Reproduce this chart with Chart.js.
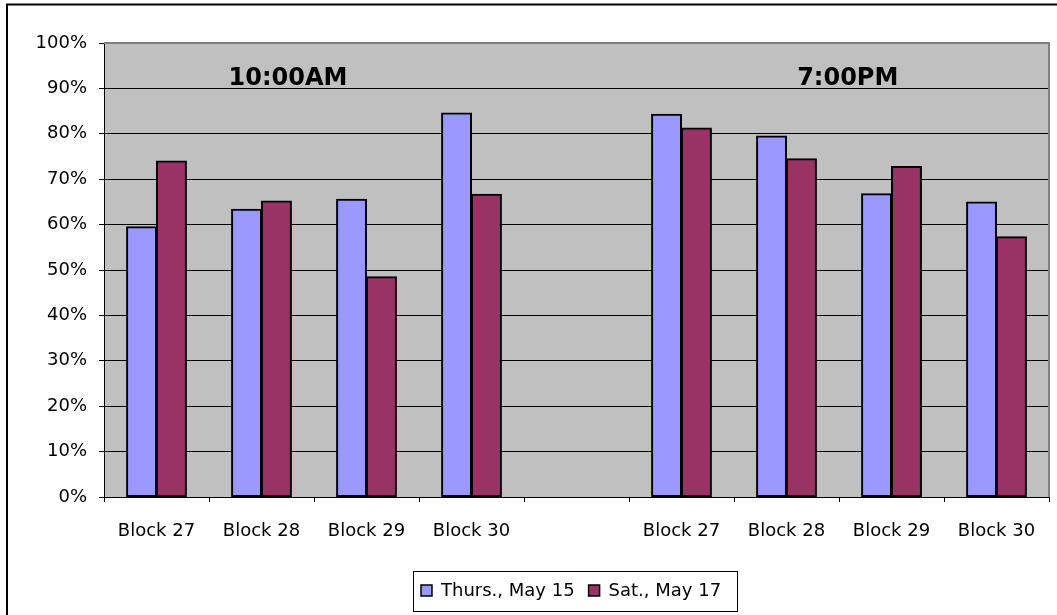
<!DOCTYPE html>
<html>
<head>
<meta charset="utf-8">
<script src="https://cdn.jsdelivr.net/npm/chart.js@4"></script>
<style>
  html, body { margin: 0; padding: 0; background: #ffffff; }
  #wrap { width: 1057px; height: 615px; position: relative; }
</style>
</head>
<body>
<div id="wrap"><canvas id="c" width="1057" height="615"></canvas></div>
<script>
// ---- data ----
const categories = ['Block 27', 'Block 28', 'Block 29', 'Block 30', '', 'Block 27', 'Block 28', 'Block 29', 'Block 30'];
const seriesNames = ['Thurs., May 15', 'Sat., May 17'];
const thursValues = [59.5, 63.4, 65.6, 84.6, null, 84.3, 79.5, 66.8, 65.0];
const satValues = [74.0, 65.2, 48.5, 66.7, null, 81.3, 74.5, 72.8, 57.3];
const groupLabels = ['10:00AM', '7:00PM'];
const yTicks = [0, 10, 20, 30, 40, 50, 60, 70, 80, 90, 100];

const FONT = 'DejaVu Sans';
const colors = ['#9999FF', '#993366'];

const decor = {
  id: 'decor',
  beforeDraw(chart) {
    const ctx = chart.ctx, a = chart.chartArea;
    ctx.save();
    ctx.fillStyle = '#ffffff';
    ctx.fillRect(0, 0, chart.width, chart.height);
    ctx.fillStyle = '#C0C0C0';
    ctx.fillRect(a.left, a.top, a.right - a.left, a.bottom - a.top);
    // outer chart border
    ctx.strokeStyle = '#000000';
    ctx.lineWidth = 2;
    ctx.beginPath();
    ctx.moveTo(7, chart.height + 2);
    ctx.lineTo(7, 4.5);
    ctx.lineTo(chart.width + 2, 4.5);
    ctx.stroke();
    ctx.restore();
  },
  afterDatasetsDraw(chart) {
    const ctx = chart.ctx, a = chart.chartArea;
    ctx.save();
    // plot area top/right border (gray)
    ctx.strokeStyle = '#808080';
    ctx.lineWidth = 2;
    ctx.beginPath();
    ctx.moveTo(a.left, a.top);
    ctx.lineTo(a.right, a.top);
    ctx.lineTo(a.right, a.bottom);
    ctx.stroke();
    // group labels
    const fr = [0.1947, 0.787];
    ctx.fillStyle = '#000000';
    ctx.font = 'bold 24px "' + FONT + '"';
    ctx.textAlign = 'center';
    ctx.textBaseline = 'alphabetic';
    const yb = chart.scales.y.getPixelForValue(90.7);
    groupLabels.forEach((t, i) => {
      ctx.fillText(t, a.left + fr[i] * (a.right - a.left), yb);
    });
    ctx.restore();
  },
  afterDraw(chart) {
    const ctx = chart.ctx;
    ctx.save();
    // legend box
    const bx = 413, by = 571, bw = 324, bh = 40;
    ctx.fillStyle = '#ffffff';
    ctx.fillRect(bx, by, bw, bh);
    ctx.strokeStyle = '#000000';
    ctx.lineWidth = 1;
    ctx.strokeRect(bx + 0.5, by + 0.5, bw, bh);
    ctx.font = '18px "' + FONT + '"';
    ctx.textBaseline = 'middle';
    ctx.textAlign = 'left';
    const cy = by + bh / 2;
    let x = 421;
    chart.data.datasets.forEach((ds, i) => {
      ctx.fillStyle = ds.backgroundColor;
      ctx.fillRect(x, cy - 6, 11, 11);
      ctx.strokeStyle = '#000000';
      ctx.lineWidth = 1.5;
      ctx.strokeRect(x, cy - 6, 11, 11);
      ctx.fillStyle = '#000000';
      ctx.fillText(ds.label, x + 20, cy);
      x += 20 + ctx.measureText(ds.label).width + 14;
    });
    ctx.restore();
  }
};

new Chart(document.getElementById('c'), {
  type: 'bar',
  data: {
    labels: categories,
    datasets: [
      { label: seriesNames[0], data: thursValues, backgroundColor: colors[0], borderColor: '#000000', borderWidth: 2, borderSkipped: false, inflateAmount: 0.5 },
      { label: seriesNames[1], data: satValues, backgroundColor: colors[1], borderColor: '#000000', borderWidth: 2, borderSkipped: false, inflateAmount: 0.5 }
    ]
  },
  options: {
    responsive: false,
    animation: false,
    devicePixelRatio: 1,
    layout: { padding: { left: 0, top: 43, right: 8, bottom: 0 } },
    datasets: { bar: { categoryPercentage: 0.57, barPercentage: 1.0 } },
    plugins: { legend: { display: false }, tooltip: { enabled: false }, title: { display: false } },
    scales: {
      x: {
        grid: { offset: true, drawOnChartArea: false, drawTicks: true, tickLength: 5, color: '#000000' },
        border: { display: true, color: '#000000', width: 1 },
        ticks: { color: '#000000', font: { family: FONT, size: 18 }, padding: 19, maxRotation: 0, autoSkip: false },
        afterFit(scale) { scale.height = 118; }
      },
      y: {
        min: 0, max: 100,
        afterBuildTicks(scale) { scale.ticks = yTicks.map(v => ({ value: v })); },
        grid: { color: '#000000', lineWidth: 1, drawTicks: true, tickLength: 5 },
        border: { display: true, color: '#000000', width: 1 },
        ticks: { color: '#000000', font: { family: FONT, size: 18 }, padding: 12, callback: v => v + '%' },
        afterFit(scale) { scale.width = 104; }
      }
    }
  },
  plugins: [decor]
});
</script>
</body>
</html>
